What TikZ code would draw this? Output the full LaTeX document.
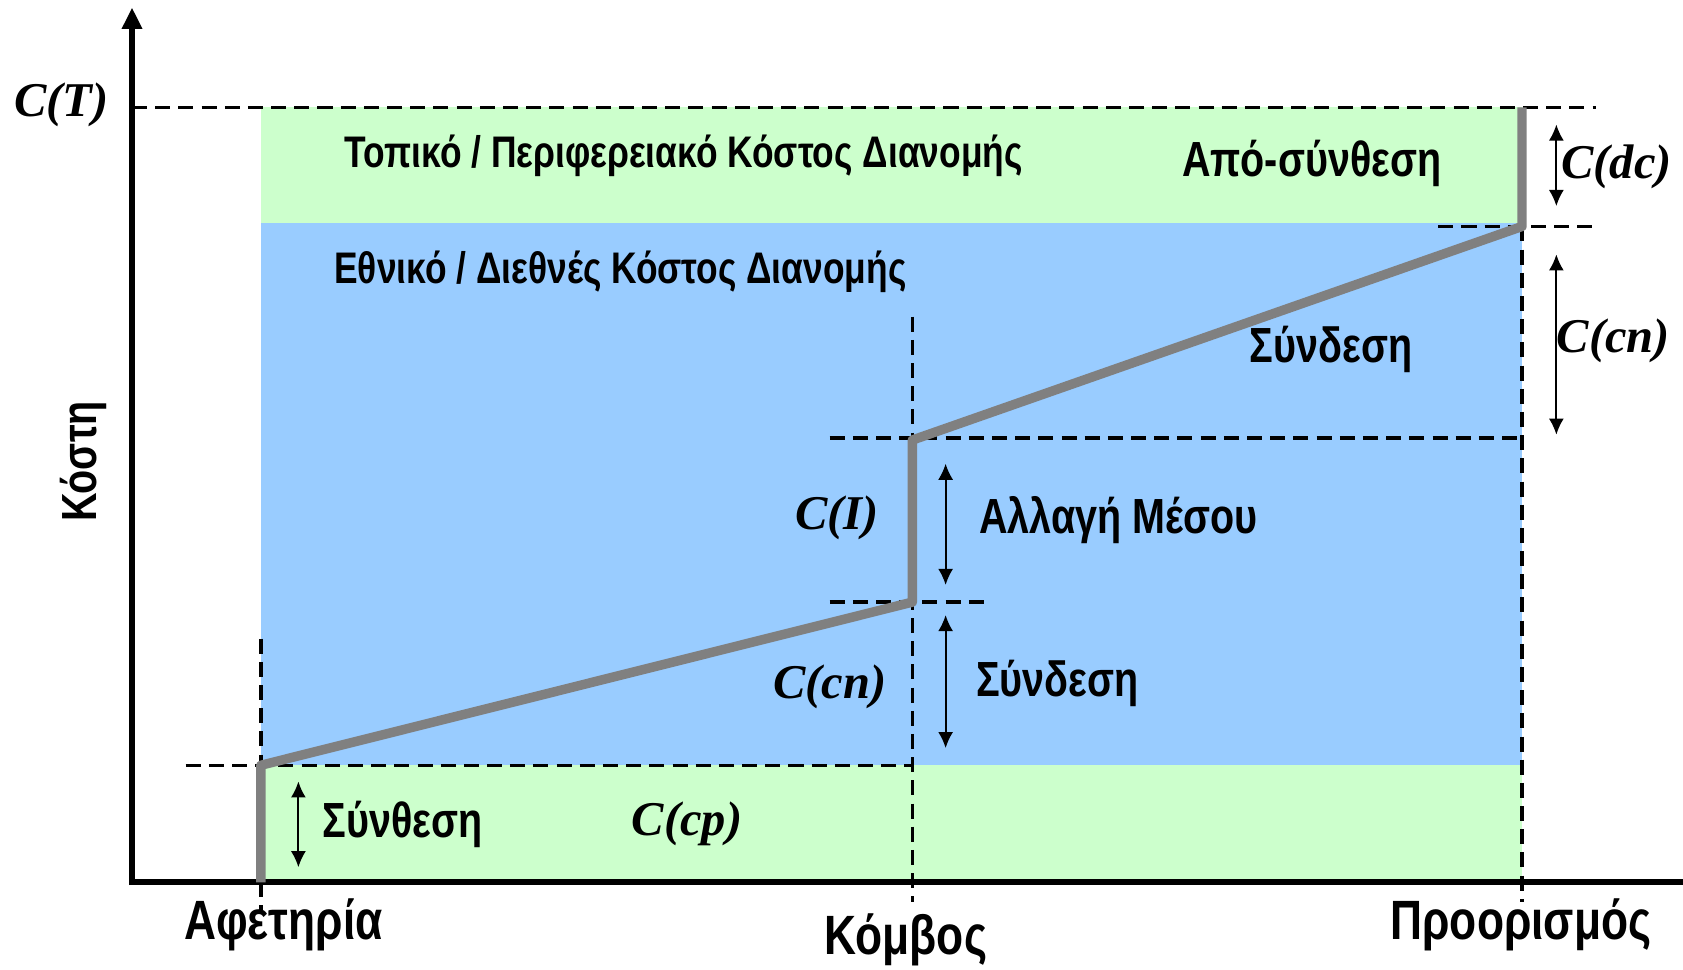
\documentclass[tikz,border=0pt]{standalone}
\usepackage{fontspec}
\newfontfamily\narrowsans{Liberation Sans}[FakeStretch=0.8]
\newfontfamily\timesf{Liberation Serif}
\usetikzlibrary{arrows.meta}
\definecolor{lightgreen}{HTML}{CCFFCC}
\definecolor{lightblue}{HTML}{99CCFF}
\definecolor{pathgray}{HTML}{808080}
\begin{document}
\begin{tikzpicture}[x=0.5pt,y=-0.5pt,
  lbl/.style={font=\narrowsans\bfseries\fontsize{23}{26}\selectfont, inner sep=0},
  place/.style={font=\narrowsans\bfseries\fontsize{25.8}{29}\selectfont, inner sep=0},
  head/.style={font=\narrowsans\bfseries\fontsize{20.6}{24}\selectfont, inner sep=0},
  cost/.style={font=\timesf\bfseries\itshape\fontsize{22.6}{26}\selectfont, inner sep=0},
  guide/.style={dash pattern=on 7pt off 3.8pt, line width=1.6pt},
  span/.style={{Latex[length=7.5pt,width=7pt]}-{Latex[length=7.5pt,width=7pt]}, line width=0.9pt},
  route/.style={pathgray, line width=4.4pt, line join=round},
  axis/.style={line width=2.7pt}
]
\useasboundingbox (0,0) rectangle (1568,903);

% cost bands
\fill[lightgreen] (243,100) rectangle (1418,208);
\fill[lightblue] (243,208) rectangle (1418,713);
\fill[lightgreen] (243,713) rectangle (1418,822);

% key points of the cost route
\coordinate (O) at (243,822);
\coordinate (P1) at (243,713);
\coordinate (K1) at (850,561);
\coordinate (K2) at (850,410);
\coordinate (D1) at (1418,211);
\coordinate (D2) at (1418,100);

% guide lines
\coordinate (gT0) at (123,100);  \coordinate (gT1) at (1487,100);
\coordinate (gD0) at (1340,211); \coordinate (gD1) at (1487,211);
\coordinate (gK0) at (773,408);  \coordinate (gK1) at (1418,408);
\coordinate (gI0) at (773,561);  \coordinate (gI1) at (918,561);
\coordinate (gP0) at (173,713);  \coordinate (gP1) at (850,713);
\coordinate (vA0) at (243,595);  \coordinate (vA1) at (243,850);
\coordinate (vK0) at (850,295);  \coordinate (vK1) at (850,840);
\coordinate (vD1) at (1418,840);
\draw[guide] (gT0) -- (gT1);
\draw[guide] (gD0) -- (gD1);
\draw[guide] (gK0) -- (gK1);
\draw[guide] (gI0) -- (gI1);
\draw[guide] (gP0) -- (gP1);
\draw[guide] (vA0) -- (P1);
\draw[guide] (O) -- (vA1);
\draw[guide] (vK0) -- (vK1);
\draw[guide] (D1) -- (vD1);

% axes
\coordinate (ax0) at (123,822);
\coordinate (axY) at (123,7);
\coordinate (axX) at (1568,822);
\draw[axis, -{Triangle[length=10pt,width=9pt]}] ([yshift=-1.35pt]ax0) -- (axY);
\draw[axis] ([xshift=-1.35pt]ax0) -- (axX);

% cost route
\draw[route] (O) -- (P1) -- (K1) -- (K2) -- (D1) -- (D2);

% extent arrows
\coordinate (a1) at (278,728); \coordinate (a2) at (278,808);
\coordinate (b1) at (881,432); \coordinate (b2) at (881,545);
\coordinate (c1) at (881,573); \coordinate (c2) at (881,697);
\coordinate (d1) at (1450,116); \coordinate (d2) at (1450,192);
\coordinate (e1) at (1450,237); \coordinate (e2) at (1450,405);
\draw[span] (a1) -- (a2);
\draw[span] (b1) -- (b2);
\draw[span] (c1) -- (c2);
\draw[span] (d1) -- (d2);
\draw[span] (e1) -- (e2);

% labels
\node[cost] (cT) at (57,98) {C(T)};
\node[head] (local) at (637,145) {Τοπικό / Περιφερειακό Κόστος Διανομής};
\node[lbl] (decon) at (1222,152) {Από-σύνθεση};
\node[head] (natl) at (578,253) {Εθνικό / Διεθνές Κόστος Διανομής};
\node[lbl] (link2) at (1240,326) {Σύνδεση};
\node[cost] (cdc) at (1506,155) {C(dc)};
\node[cost] (ccn2) at (1503,318) {C(cn)};
\node[cost] (cI) at (780,482) {C(I)};
\node[lbl] (modal) at (1042,485) {Αλλαγή Μέσου};
\node[cost] (ccn1) at (773,640) {C(cn)};
\node[lbl] (link1) at (985,637) {Σύνδεση};
\node[lbl] (comp) at (375,768) {Σύνθεση};
\node[cost] (ccp) at (640,768) {C(cp)};
\node[place] (orig) at (264,862) {Αφετηρία};
\node[place] (node) at (844,876) {Κόμβος};
\node[place] (dest) at (1417,862) {Προορισμός};
\node[lbl, rotate=90] (yl) at (78,430) {Κόστη};
\end{tikzpicture}
\end{document}
